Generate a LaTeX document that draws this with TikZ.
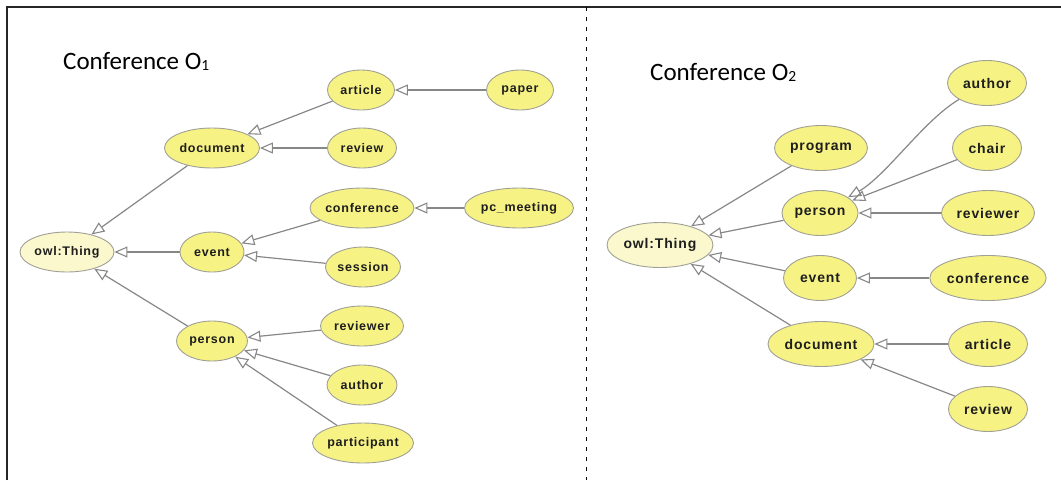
\documentclass[tikz,border=0pt]{standalone}
\usepackage{fontspec}
\usetikzlibrary{shapes.geometric,arrows.meta}
\newfontfamily\titlefamily{Carlito}
\newfontfamily\labelfamily{Liberation Sans}[LetterSpace=6]
\definecolor{nodefill}{RGB}{247,242,132}
\definecolor{rootfill}{RGB}{250,248,204}
\definecolor{nodeline}{RGB}{160,160,150}
\definecolor{edgeline}{RGB}{135,135,135}
\definecolor{labeltext}{RGB}{30,30,30}
\newcommand\smalllabel{\labelfamily\bfseries\fontsize{12.5}{14}\selectfont}
\newcommand\biglabel{\labelfamily\bfseries\fontsize{14}{16}\selectfont}
\newcommand\titletext{\titlefamily\fontsize{25}{29}\selectfont}
\tikzset{
  cls/.style={ellipse, draw=nodeline, line width=0.9pt, fill=nodefill,
    inner sep=0pt, text=labeltext, minimum width=#1},
  lcls/.style={cls=#1, minimum height=40pt, font=\smalllabel},
  rcls/.style={cls=#1, minimum height=45pt, font=\biglabel},
  root/.style={fill=rootfill},
  isa/.style={draw=edgeline, line width=1.2pt,
    -{Triangle[open, length=13pt, width=11pt, line width=1.1pt]}},
  title/.style={anchor=base west, inner sep=0pt, font=\titletext},
  frameline/.style={draw=black!85, line width=1.4pt},
  divider/.style={draw=black, line width=1pt, dash pattern=on 4pt off 6pt}
}
\begin{document}
\begin{tikzpicture}[x=1pt, y=-1pt]
\useasboundingbox (0,0) rectangle (1061,480);

% outer frame and the divider between the two ontologies
\coordinate (fbl) at (7,480);
\coordinate (ftl) at (7,7);
\coordinate (ftr) at (1061,7);
\coordinate (dtop) at (586,7);
\coordinate (dbot) at (586,480);
\draw[frameline] (fbl) -- (ftl) -- (ftr);
\draw[divider] (dtop) -- (dbot);

% ---- Conference O1 ----
\node[title] (t1) at (63,69) {Conference O\raisebox{-1pt}{\fontsize{15.5}{15.5}\selectfont 1}};

\node[lcls=94pt, root] (lthing) at (67,252) {owl:Thing};
\node[lcls=95pt] (ldocument) at (212,148) {document};
\node[lcls=64pt] (levent) at (212,252) {event};
\node[lcls=71pt] (lperson) at (212,341) {person};
\node[lcls=67pt] (larticle) at (361,90) {article};
\node[lcls=67pt] (lpaper) at (520,90) {paper};
\node[lcls=69pt] (lreview) at (362,148) {review};
\node[lcls=103pt] (lconference) at (362,208) {conference};
\node[lcls=109pt] (lpcmeeting) at (519,208) {pc\_meeting};
\node[lcls=75pt] (lsession) at (363,267) {session};
\node[lcls=83pt] (lreviewer) at (362,326) {reviewer};
\node[lcls=70pt] (lauthor) at (362,385) {author};
\node[lcls=100pt] (lparticipant) at (363,443) {participant};

\draw[isa] (ldocument) -- (lthing);
\draw[isa] (levent) -- (lthing);
\draw[isa] (lperson) -- (lthing);
\draw[isa] (larticle) -- (ldocument);
\draw[isa] (lpaper) -- (larticle);
\draw[isa] (lreview) -- (ldocument);
\draw[isa] (lconference) -- (levent);
\draw[isa] (lpcmeeting) -- (lconference);
\draw[isa] (lsession) -- (levent);
\draw[isa] (lreviewer) -- (lperson);
\draw[isa] (lauthor) -- (lperson);
\draw[isa] (lparticipant) -- (lperson);

% ---- Conference O2 ----
\node[title] (t2) at (650,80) {Conference O\raisebox{-1pt}{\fontsize{15.5}{15.5}\selectfont 2}};

\node[rcls=106pt, root] (rthing) at (660,245) {owl:Thing};
\node[rcls=93pt] (rprogram) at (821,148) {program};
\node[rcls=76pt] (rperson) at (820,213) {person};
\node[rcls=73pt] (revent) at (820,278) {event};
\node[rcls=106pt] (rdocument) at (821,344) {document};
\node[rcls=79pt] (rauthor) at (987,83) {author};
\node[rcls=69pt] (rchair) at (987,148) {chair};
\node[rcls=93pt] (rreviewer) at (988,213) {reviewer};
\node[rcls=115pt] (rconference) at (988,278) {conference};
\node[rcls=79pt] (rarticle) at (988,344) {article};
\node[rcls=79pt] (rreview) at (988,409) {review};

\draw[isa] (rprogram) -- (rthing);
\draw[isa] (rperson) -- (rthing);
\draw[isa] (revent) -- (rthing);
\draw[isa] (rdocument) -- (rthing);
\draw[isa] (rauthor) .. controls (924,120) and (886,176) .. (rperson);
\draw[isa] (rchair) -- (rperson);
\draw[isa] (rreviewer) -- (rperson);
\draw[isa] (rconference) -- (revent);
\draw[isa] (rarticle) -- (rdocument);
\draw[isa] (rreview) -- (rdocument);
\end{tikzpicture}
\end{document}
